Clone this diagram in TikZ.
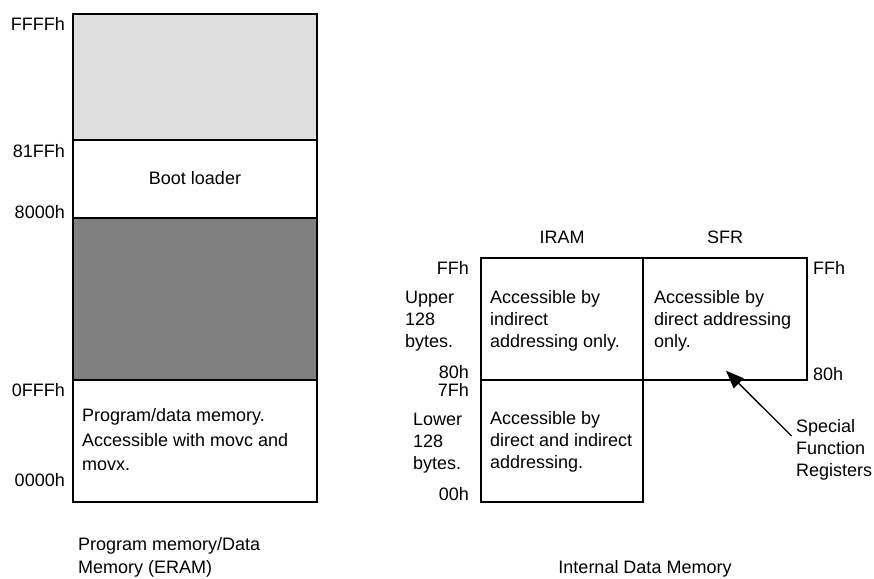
\documentclass[tikz,border=0pt]{standalone}
\usepackage{fontspec}
\setmainfont{Liberation Sans}
\usetikzlibrary{arrows.meta}
\begin{document}
\begin{tikzpicture}[x=1pt,y=-1pt,
  membox/.style={draw=black, line width=1.4pt, inner sep=0, outer sep=0, anchor=north west},
  lbl/.style={inner sep=0, font=\fontsize{18}{22}\selectfont},
  lblwide/.style={inner sep=0, align=left, font=\fontsize{18}{24.5}\selectfont},
  lblmid/.style={inner sep=0, align=left, font=\fontsize{18}{23}\selectfont},
  lblnarrow/.style={inner sep=0, align=left, font=\fontsize{18}{22}\selectfont},
  pointer/.style={line width=1.3pt, -{Triangle[length=18pt,width=14pt]}}
]
\useasboundingbox (0,0) rectangle (874,578);
% left column: program memory / data memory
\node[membox, fill={rgb,255:red,222;green,222;blue,222}, minimum width=244pt, minimum height=126pt] (ltop) at (73,14) {};
\node[membox, fill=white, minimum width=244pt, minimum height=78pt] (lboot) at (73,140) {};
\node[membox, fill={rgb,255:red,128;green,128;blue,128}, minimum width=244pt, minimum height=162pt] (ldark) at (73,218) {};
\node[membox, fill=white, minimum width=244pt, minimum height=122pt] (lprog) at (73,380) {};

\node[lbl, anchor=base] (boottxt) at (195,184.4) {Boot loader};
\node[lblwide, anchor=north west] (progtxt) at (82,408.4) {Program/data memory.\\Accessible with movc and\\movx.};

\node[lbl, anchor=base east] (aFFFF) at (65,30.4) {FFFFh};
\node[lbl, anchor=base east] (a81FF) at (65,157.4) {81FFh};
\node[lbl, anchor=base east] (a8000) at (65,218.4) {8000h};
\node[lbl, anchor=base east] (a0FFF) at (65,396.4) {0FFFh};
\node[lbl, anchor=base east] (a0000) at (65,486.4) {0000h};

\node[lblmid, anchor=north west] (lcap) at (78,537.4) {Program memory/Data\\Memory (ERAM)};

% right: internal data memory
\node[membox, fill=white, minimum width=162pt, minimum height=122pt] (iup) at (481,258) {};
\node[membox, fill=white, minimum width=164pt, minimum height=122pt] (sfr) at (643,258) {};
\node[membox, fill=white, minimum width=162pt, minimum height=122pt] (ilow) at (481,380) {};

\node[lbl, anchor=base] (iramlab) at (562,243.1) {IRAM};
\node[lbl, anchor=base] (sfrlab) at (725,243.1) {SFR};

\node[lblnarrow, anchor=north west] (iuptxt) at (490,290.4) {Accessible by\\indirect\\addressing only.};
\node[lblnarrow, anchor=north west] (sfrtxt) at (654,290.4) {Accessible by\\direct addressing\\only.};
\node[lblnarrow, anchor=north west] (ilowtxt) at (490,411.4) {Accessible by\\direct and indirect\\addressing.};

\node[lbl, anchor=base east] (bFF) at (469,274.4) {FFh};
\node[lblnarrow, anchor=north west] (upper) at (405,291.4) {Upper\\128\\bytes.};
\node[lbl, anchor=base east] (b80) at (469,378.4) {80h};
\node[lbl, anchor=base east] (b7F) at (469,396.4) {7Fh};
\node[lblnarrow, anchor=north west] (lower) at (413,413.4) {Lower\\128\\bytes.};
\node[lbl, anchor=base east] (b00) at (469,500.4) {00h};

\node[lbl, anchor=base west] (cFF) at (813,274.4) {FFh};
\node[lbl, anchor=base west] (c80) at (813,380.4) {80h};

\node[lblnarrow, anchor=north west] (sfrnote) at (796,419.4) {Special\\Function\\Registers};
\coordinate (arrtail) at (791.5,436);
\coordinate (arrtip) at (726,370.7);
\draw[pointer] (arrtail) -- (arrtip);

\node[lbl, anchor=base] (rcap) at (645,573.5) {Internal Data Memory};
\end{tikzpicture}
\end{document}
